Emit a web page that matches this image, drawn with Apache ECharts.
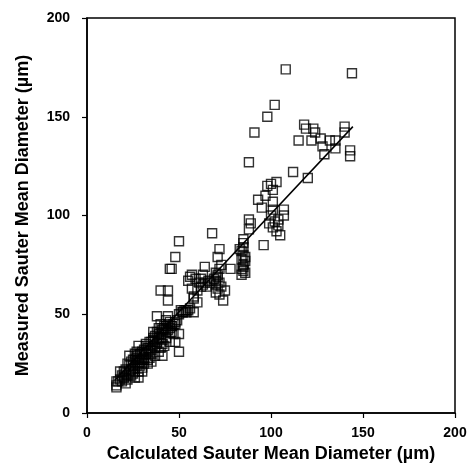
<!DOCTYPE html>
<html>
<head>
<meta charset="utf-8">
<script src="https://cdn.jsdelivr.net/npm/echarts@6/dist/echarts.min.js"></script>
<style>html,body{margin:0;padding:0;background:#fff}#c{width:472px;height:468px}</style>
</head>
<body>
<div id="c"></div>
<script>
// Calculated Sauter mean diameter (µm)
const calcD = [108,144,102,98,91,118,119,123,124,115,122,127,128,132,135,135,140,140,143,143,129,112,120,88,103,100,98,101,97,93,95,101,101,107,107,102,104,101,103,105,104,100,99,96,89,88,88,85,
85,85,84,85,84,86,85,84,85,86,84,85,86,83,
68,72,71,64,78,72,73,
70,71,70,72,70,71,70,72,73,69,75,74,71,
50,48,46,45,40,44,44,57,59,62,56,60,58,60,58,57,61,63,55,
51,52,53,54,55,58,56,50,49,48,47,46,45,43,44,42,46,47,50,48,45,50,41,36,38,43,40,41,39,
38,37,36,35,34,35,33,32,34,33,31,30,31,29,28,27,28,29,27,26,25,26,24,25,23,22,21,22,20,21,19,18,19,17,16,16,16,20,26,28,30,31,35,37,39,40,41,42,38,39,40,41,43,44,36,34,32,30,29,27,25,24,23,26,33,30,28,24,22,18,21,
36,37,39,41,42,44,45,33,31,29,27,23,20,38,40,35,32,28,26,43,46,48,52,54,62,63,64,66,65,67];
// Measured Sauter mean diameter (µm)
const measD = [174,172,156,150,142,146,144,144,142,138,138,139,135,138,138,134,145,142,133,130,131,122,119,127,117,116,115,113,110,108,104,107,103,103,100,97,95,94,92,90,98,100,96,85,96,93,98,88,
86,84,82,80,78,77,75,73,72,71,70,74,79,83,
91,83,79,74,73,73,75,
71,69,67,66,65,63,61,60,64,68,62,57,70,
87,79,73,73,62,62,57,70,68,68,69,62,59,56,58,63,66,70,67,
52,51,52,51,52,51,53,50,47,46,45,44,43,44,42,43,41,40,40,36,36,31,29,41,49,38,40,37,38,
35,33,34,32,33,30,31,30,28,27,28,27,25,26,34,28,25,24,24,23,24,21,22,20,21,25,22,19,18,20,19,17,16,16,16,14,13,18,18,18,21,27,26,29,31,33,35,34,41,43,45,42,47,49,38,36,35,31,30,31,27,26,29,30,25,23,21,19,17,21,15,
37,39,40,43,44,45,46,33,32,30,29,24,21,36,38,36,34,27,27,41,44,45,51,52,64,65,66,67,64,66];
// Fitted line endpoints
const fitX = [15, 144.5];
const fitY = [16.5, 145];
const ticks = [0, 50, 100, 150, 200];

const pts = calcD.map((x, i) => [x, measD[i]]);
const fit = fitX.map((x, i) => [x, fitY[i]]);
const font = 'Liberation Sans';
const axisCommon = {
  min: ticks[0], max: ticks[ticks.length - 1], interval: ticks[1] - ticks[0],
  axisLine: { show: true, onZero: false, lineStyle: { color: '#000', width: 1.5 } },
  axisTick: { show: true, inside: false, length: 5, lineStyle: { color: '#000', width: 1.2 } },
  splitLine: { show: false },
  axisLabel: { color: '#000', fontFamily: font, fontWeight: 'bold', fontSize: 14 },
  nameLocation: 'middle',
  nameTextStyle: { color: '#000', fontFamily: font, fontWeight: 'bold', fontSize: 18 }
};
const chart = echarts.init(document.getElementById('c'), null, { renderer: 'canvas' });
chart.setOption({
  animation: false,
  backgroundColor: '#fff',
  grid: { left: 87, right: 17, top: 18, bottom: 55, show: true, borderColor: '#000', borderWidth: 1.5, backgroundColor: 'transparent' },
  xAxis: Object.assign({}, axisCommon, {
    type: 'value', name: 'Calculated Sauter Mean Diameter (µm)', nameGap: 30,
    axisLabel: Object.assign({}, axisCommon.axisLabel, { margin: 13 })
  }),
  yAxis: Object.assign({}, axisCommon, {
    type: 'value', name: 'Measured Sauter Mean Diameter (µm)', nameGap: 55,
    axisLabel: Object.assign({}, axisCommon.axisLabel, { margin: 17 })
  }),
  series: [
    {
      type: 'scatter', data: pts, symbol: 'rect', symbolSize: 9,
      itemStyle: { color: 'rgba(255,255,255,0)', borderColor: '#000', borderWidth: 1.4 }
    },
    {
      type: 'line', data: fit, showSymbol: false, symbol: 'none',
      lineStyle: { color: '#000', width: 1.5 }
    }
  ]
});
</script>
</body>
</html>
